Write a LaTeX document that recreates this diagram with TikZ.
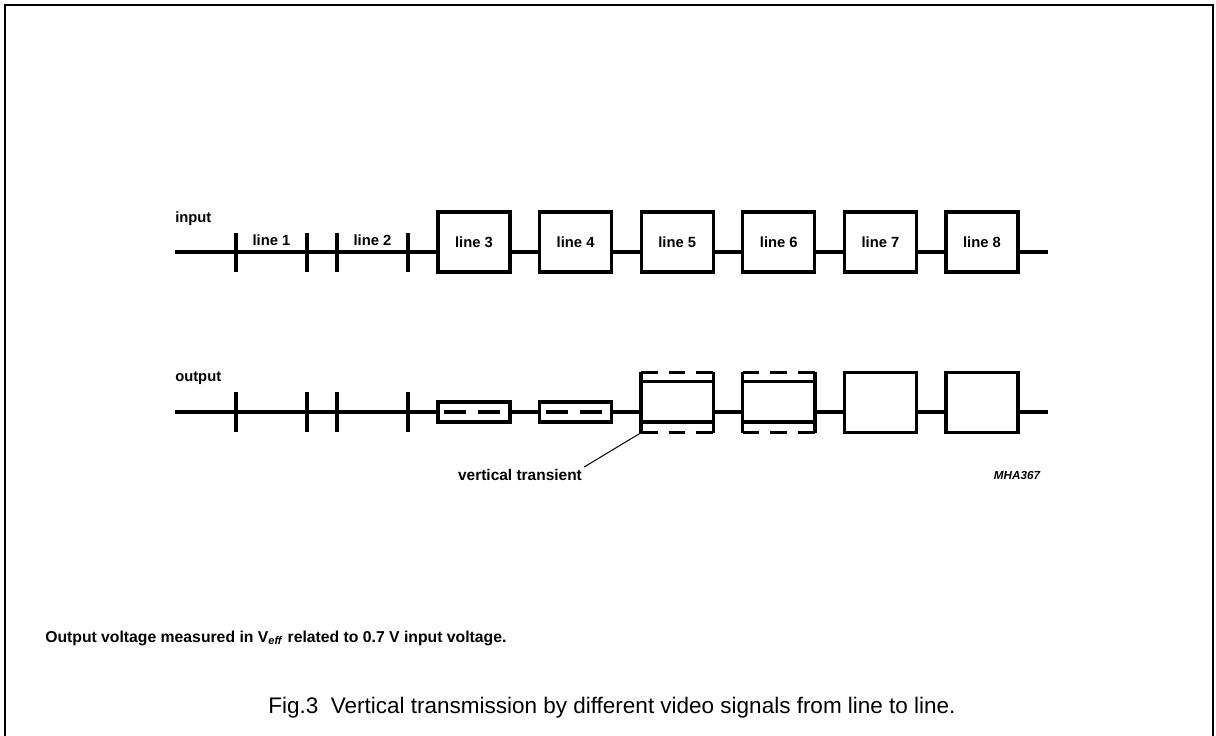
\documentclass[tikz,border=0pt]{standalone}
\usepackage{fontspec}
\setmainfont{Liberation Sans}
\tikzset{
  sigline/.style={line width=0.08cm},
  linebox/.style={draw, line width=0.08cm, minimum width=1.8cm, minimum height=1.5cm, inner sep=0pt},
  smallbox/.style={draw, line width=0.08cm, minimum width=1.8cm, minimum height=0.5cm, inner sep=0pt},
  openbox/.style={minimum width=1.8cm, minimum height=1.5cm, inner sep=0pt},
  transdash/.style={line width=0.08cm, dash pattern=on 0.42cm off 0.27cm},
  lbl/.style={inner sep=0pt, font=\fontsize{10.5}{12}\selectfont\bfseries}
}
\begin{document}
\begin{tikzpicture}
                    \useasboundingbox (0,0) rectangle (30.4,18.4);
                    {\footnotesize

                    % Drawing frame
                    \draw [line width=0.05cm] (0.125,0) -- (0.125,18.275) -- (30.325,18.275) -- (30.325,0);%

                    % Marking input
                    \node [lbl, anchor=west] (lblin) at (4.375,12.925) {input};%

                    % Marking output
                    \node [lbl, anchor=west] (lblout) at (4.375,8.95) {output};%

                    % Marking signal ends
                    \coordinate (ia) at (4.375,12.1);%
                    \coordinate (ib) at (26.2,12.1);%
                    \coordinate (oa) at (4.375,8.1);%
                    \coordinate (ob) at (26.2,8.1);%

                    % Drawing input boxes
                    \node [linebox, lbl] (in3) at (11.85,12.35) {line 3};%
                    \node [linebox, lbl] (in4) at (14.39,12.35) {line 4};%
                    \node [linebox, lbl] (in5) at (16.93,12.35) {line 5};%
                    \node [linebox, lbl] (in6) at (19.47,12.35) {line 6};%
                    \node [linebox, lbl] (in7) at (22.01,12.35) {line 7};%
                    \node [linebox, lbl] (in8) at (24.55,12.35) {line 8};%

                    % Marking line 1 and line 2
                    \node [lbl] (lbl1) at (6.7875,12.4) {line 1};%
                    \node [lbl] (lbl2) at (9.3125,12.4) {line 2};%

                    % Drawing input signal
                    \draw [sigline] (ia) -- (ia -| in3.west);%
                    \draw [sigline] (ia -| in3.east) -- (ia -| in4.west);%
                    \draw [sigline] (ia -| in4.east) -- (ia -| in5.west);%
                    \draw [sigline] (ia -| in5.east) -- (ia -| in6.west);%
                    \draw [sigline] (ia -| in6.east) -- (ia -| in7.west);%
                    \draw [sigline] (ia -| in7.east) -- (ia -| in8.west);%
                    \draw [sigline] (ia -| in8.east) -- (ib);%

                    % Drawing input ticks
                    \draw [sigline] (5.9,12.575) -- (5.9,11.6);%
                    \draw [sigline] (7.675,12.575) -- (7.675,11.6);%
                    \draw [sigline] (8.425,12.575) -- (8.425,11.6);%
                    \draw [sigline] (10.2,12.575) -- (10.2,11.6);%

                    % Drawing output boxes
                    \node [smallbox] (out3) at (11.85,8.1) {};%
                    \node [smallbox] (out4) at (14.39,8.1) {};%
                    \node [openbox] (out5) at (16.93,8.3375) {};%
                    \node [openbox] (out6) at (19.47,8.3375) {};%
                    \node [linebox] (out7) at (22.01,8.3375) {};%
                    \node [linebox] (out8) at (24.55,8.3375) {};%

                    % Drawing dashed signal in line 3 and line 4
                    \draw [line width=0.08cm, dash pattern=on 0.55cm off 0.3cm] ([xshift=0.2cm]out3.west) -- ([xshift=-0.2cm]out3.east);%
                    \draw [line width=0.08cm, dash pattern=on 0.55cm off 0.3cm] ([xshift=0.2cm]out4.west) -- ([xshift=-0.2cm]out4.east);%

                    % Drawing line 5 with transient
                    \draw [sigline] (out5.north west) -- (out5.south west);%
                    \draw [sigline] (out5.north east) -- (out5.south east);%
                    \draw [transdash] (out5.north west) -- (out5.north east);%
                    \draw [transdash] (out5.south west) -- (out5.south east);%
                    \draw [sigline] ([yshift=-0.24cm]out5.north west) -- ([yshift=-0.24cm]out5.north east);%
                    \draw [sigline] ([yshift=0.27cm]out5.south west) -- ([yshift=0.27cm]out5.south east);%

                    % Drawing line 6 with transient
                    \draw [sigline] (out6.north west) -- (out6.south west);%
                    \draw [sigline] (out6.north east) -- (out6.south east);%
                    \draw [transdash] (out6.north west) -- (out6.north east);%
                    \draw [transdash] (out6.south west) -- (out6.south east);%
                    \draw [sigline] ([yshift=-0.24cm]out6.north west) -- ([yshift=-0.24cm]out6.north east);%
                    \draw [sigline] ([yshift=0.27cm]out6.south west) -- ([yshift=0.27cm]out6.south east);%

                    % Drawing output signal
                    \draw [sigline] (oa) -- (oa -| out3.west);%
                    \draw [sigline] (oa -| out3.east) -- (oa -| out4.west);%
                    \draw [sigline] (oa -| out4.east) -- (oa -| out5.west);%
                    \draw [sigline] (oa -| out5.east) -- (oa -| out6.west);%
                    \draw [sigline] (oa -| out6.east) -- (oa -| out7.west);%
                    \draw [sigline] (oa -| out7.east) -- (oa -| out8.west);%
                    \draw [sigline] (oa -| out8.east) -- (ob);%

                    % Drawing output ticks
                    \draw [sigline] (5.9,8.6) -- (5.9,7.6);%
                    \draw [sigline] (7.675,8.6) -- (7.675,7.6);%
                    \draw [sigline] (8.425,8.6) -- (8.425,7.6);%
                    \draw [sigline] (10.2,8.6) -- (10.2,7.6);%

                    % Marking vertical transient
                    \node [inner sep=0pt, font=\fontsize{11}{13}\selectfont\bfseries] (trans) at (13.0,6.525) {vertical transient};%
                    \draw [line width=0.025cm] ([xshift=0.05cm,yshift=0.05cm]trans.north east) -- (out5.south west);%

                    % Marking code
                    \node [inner sep=0pt, font=\fontsize{8.3}{10}\selectfont\bfseries\itshape] (code) at (25.425,6.525) {MHA367};%

                    % Marking note
                    \node [inner sep=0pt, anchor=west, font=\fontsize{11.2}{13}\selectfont\bfseries] (note) at (1.125,2.45) {Output voltage measured in V\textsubscript{\textit{eff}} related to 0.7 V input voltage.};%

                    % Marking caption
                    \node [inner sep=0pt, font=\fontsize{16}{19}\selectfont] (caption) at (15.3,0.7) {Fig.3\ \ Vertical transmission by different video signals from line to line.};%
                    }
\end{tikzpicture}
\end{document}
